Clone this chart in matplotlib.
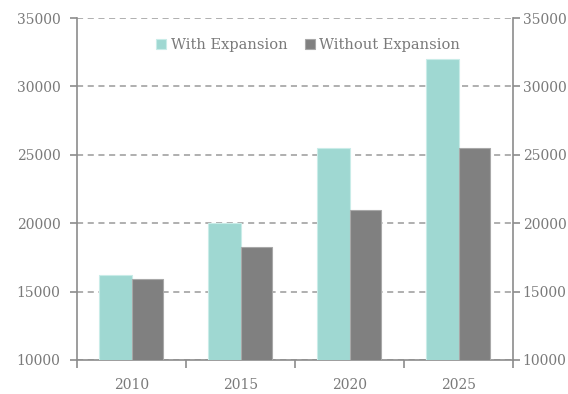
import matplotlib
matplotlib.use("Agg")
import matplotlib.pyplot as plt
import matplotlib.transforms as mtransforms
import numpy as np

years = ["2010", "2015", "2020", "2025"]
with_expansion = [16200, 20000, 25500, 32000]
without_expansion = [15900, 18250, 21000, 25500]
y_ticks = [10000, 15000, 20000, 25000, 30000, 35000]

TEAL = "#9fd8d2"
GREY = "#808080"
TEXT = "#7a7a7a"
AXIS = "#8c8c8c"

plt.rcParams["font.family"] = ["DejaVu Serif"]

fig = plt.figure(figsize=(5.68, 3.94), dpi=100)
ax = fig.add_axes([0.1356, 0.0863, 0.7676, 0.868])

x = np.arange(len(years))
w = 0.29
ax.bar(x - w / 2 - 0.005, with_expansion, width=w + 0.01, color=TEAL,
       edgecolor="#c9ece8", linewidth=0.8, label="With Expansion", zorder=3)
ax.bar(x + w / 2, without_expansion, width=w - 0.01, color=GREY,
       edgecolor="#a8a8a8", linewidth=0.8, label="Without Expansion", zorder=3)

ax.set_xlim(-0.5, len(years) - 0.5)
ax.set_ylim(10000, 35000)
ax.set_yticks(y_ticks)
ax.set_xticks(x)
ax.set_xticklabels(years)
ax.set_xticks(np.arange(-0.5, len(years)), minor=True)

ax.yaxis.grid(True, linestyle=(0, (4, 3)), color="#9a9a9a", linewidth=1.1, zorder=0)
ax.tick_params(axis="x", which="major", length=0, pad=13, labelsize=10, labelcolor=TEXT)
ax.tick_params(axis="x", which="minor", length=6, width=1.2, color=AXIS, direction="out")
ax.tick_params(axis="y", length=5, width=1.2, color=AXIS, labelsize=10,
               labelcolor=TEXT, left=True, right=True, labelleft=True, labelright=True,
               pad=7)

# pull the right-hand labels closer to their spine
shift = mtransforms.ScaledTranslation(-5 / 72, 0, fig.dpi_scale_trans)
for tick in ax.yaxis.get_major_ticks():
    tick.label2.set_transform(tick.label2.get_transform() + shift)

for side in ["left", "right", "bottom"]:
    ax.spines[side].set_color(AXIS)
    ax.spines[side].set_linewidth(1.2)
ax.spines["top"].set_visible(False)

leg = ax.legend(loc="center", bbox_to_anchor=(0.53, 0.92), ncol=2, frameon=False,
                fontsize=10.5, handlelength=0.7, handleheight=0.7, handletextpad=0.3,
                columnspacing=1.2)
for t in leg.get_texts():
    t.set_color(TEXT)

fig.savefig("out.png", dpi=100)
